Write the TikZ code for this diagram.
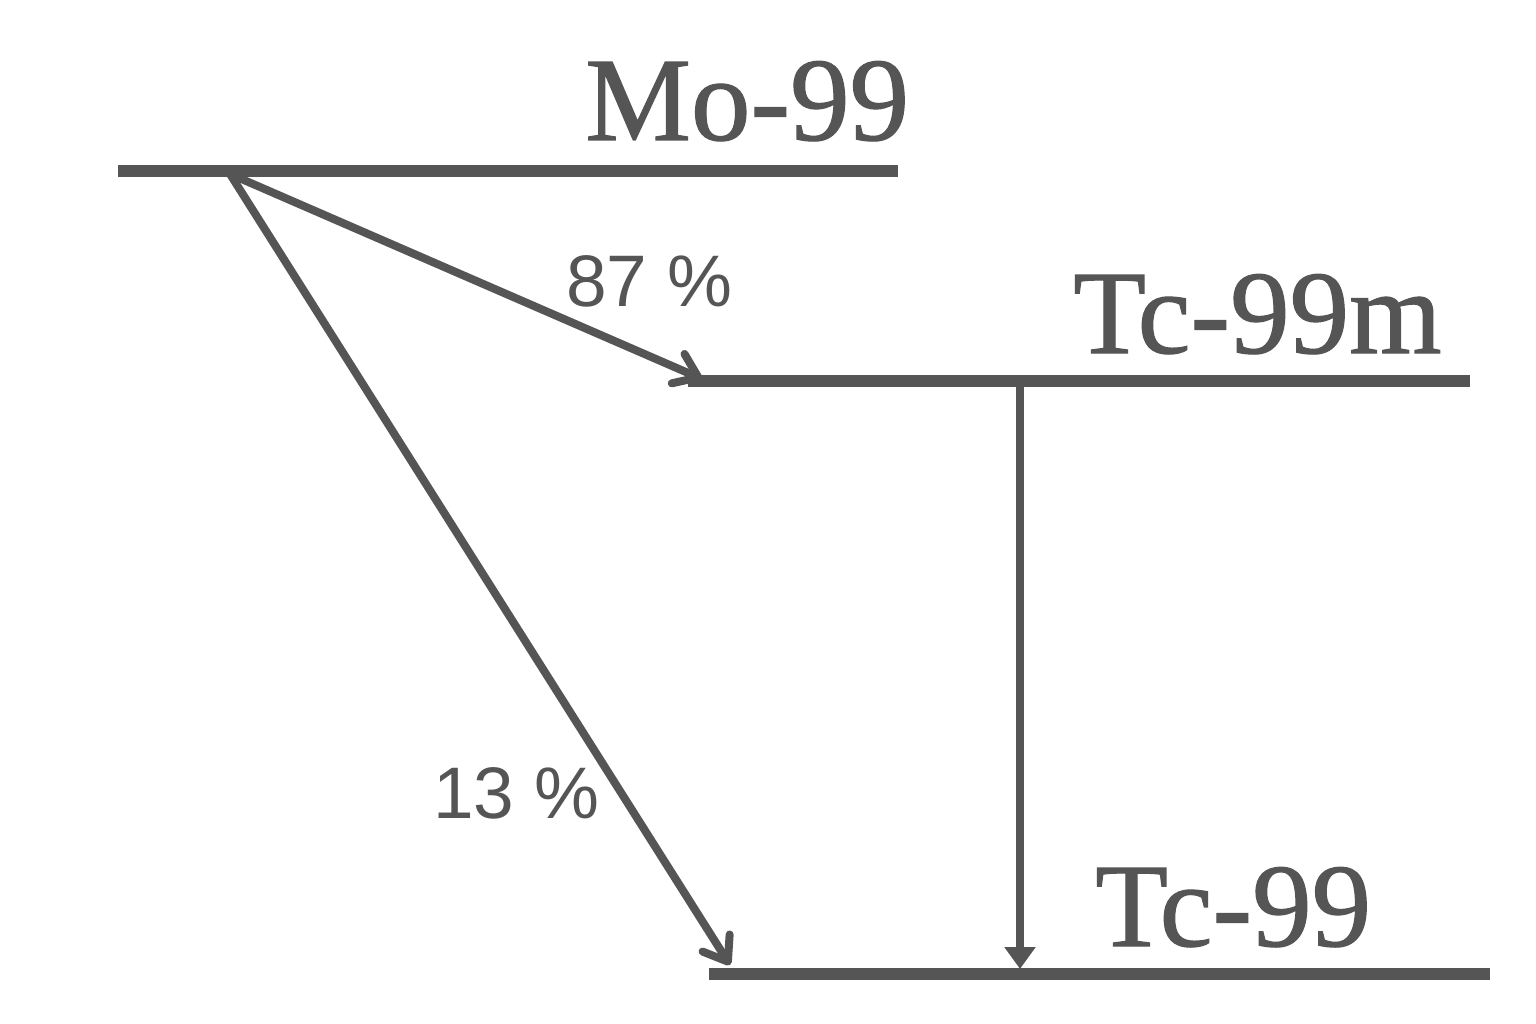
\documentclass[tikz,border=0pt]{standalone}
\usepackage{fontspec}
\setmainfont{Liberation Serif}
\newfontfamily\nucserif{Liberation Serif}[FakeBold=1.0]
\newfontfamily\labsans{Liberation Sans}
\usetikzlibrary{arrows.meta}
\definecolor{ink}{HTML}{555555}
\begin{document}
\begin{tikzpicture}[x=1pt,y=-1pt,
  level/.style={draw=ink,line width=11.5pt},
  decay/.style={draw=ink,line width=8pt,line cap=round,line join=round,
    -{Straight Barb[length=22pt,width=32pt,round]}},
  gamma/.style={draw=ink,line width=8pt,-{Triangle[length=22pt,width=30pt]}},
  nuclide/.style={text=ink,inner sep=0pt,anchor=base west,font=\nucserif\fontsize{119}{119}\selectfont},
  branch/.style={text=ink,inner sep=0pt,anchor=base west,font=\labsans\fontsize{73}{73}\selectfont}]
\useasboundingbox[fill=white] (0,0) rectangle (1536,1024);
% level end points
\coordinate (moL) at (118,171);
\coordinate (moR) at (898,171);
\coordinate (tcmL) at (688,381);
\coordinate (tcmR) at (1470,381);
\coordinate (tcL) at (709,974);
\coordinate (tcR) at (1490,974);
% arrow end points
\coordinate (src) at (230,174);
\coordinate (hitm) at (702,379);
\coordinate (hitg) at (730,965);
\coordinate (gtop) at (1020,386);
\coordinate (gbot) at (1020,969);
% levels
\draw[level] (moL) -- (moR);
\draw[level] (tcmL) -- (tcmR);
\draw[level] (tcL) -- (tcR);
% labels
\node[nuclide] (mo) at (585,140) {Mo-99};
\node[nuclide] (tcm) at (1073,353) {Tc-99m};
\node[nuclide] (tc) at (1095,946) {Tc-99};
\node[branch] (p87) at (566,306) {87 \%};
\node[branch] (p13) at (433,818) {13 \%};
% transitions
\draw[decay] (src) -- (hitm);
\draw[decay] (src) -- (hitg);
\draw[gamma] (gtop) -- (gbot);
\end{tikzpicture}
\end{document}
